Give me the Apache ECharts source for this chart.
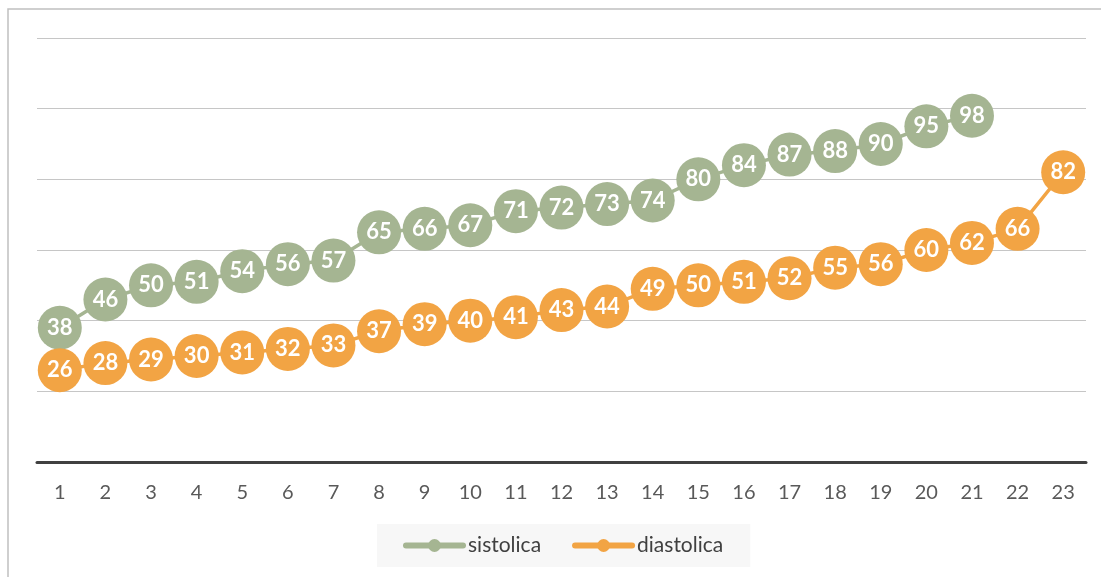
<!DOCTYPE html>
<html>
<head>
<meta charset="utf-8">
<script src="https://cdn.jsdelivr.net/npm/echarts@6/dist/echarts.min.js"></script>
<style>
  html, body { margin: 0; padding: 0; background: #ffffff; }
  #chart { width: 1101px; height: 577px; }
</style>
</head>
<body>
<div id="chart"></div>
<script>
// Blood pressure readings per measurement
const categories = ['1','2','3','4','5','6','7','8','9','10','11','12','13','14','15','16','17','18','19','20','21','22','23'];
const sistolica = [38, 46, 50, 51, 54, 56, 57, 65, 66, 67, 71, 72, 73, 74, 80, 84, 87, 88, 90, 95, 98, null, null];
const diastolica = [26, 28, 29, 30, 31, 32, 33, 37, 39, 40, 41, 43, 44, 49, 50, 51, 52, 55, 56, 60, 62, 66, 82];

const GREEN = '#a5b592';
const ORANGE = '#f2a444';
const FONT = 'Lato, "Open Sans", sans-serif';

function lineSeries(name, data, color) {
  return {
    name: name,
    type: 'line',
    data: data,
    symbol: 'circle',
    symbolSize: 44,
    connectNulls: false,
    lineStyle: { color: color, width: 3.5 },
    itemStyle: { color: color },
    label: {
      show: true,
      position: 'inside',
      color: '#ffffff',
      fontFamily: FONT,
      fontWeight: 'bold',
      fontSize: 22
    },
    emphasis: { disabled: true },
    z: 3
  };
}

const chart = echarts.init(document.getElementById('chart'), null, { renderer: 'canvas' });
chart.setOption({
  animation: false,
  backgroundColor: '#ffffff',
  textStyle: { fontFamily: FONT },
  graphic: [{
    type: 'rect',
    shape: { x: 8, y: 9, width: 1200, height: 700 },
    style: { fill: 'none', stroke: '#c0c0c0', lineWidth: 1.5 },
    silent: true,
    z: -10
  }],
  grid: { left: 37, right: 15, top: 38, bottom: 115, containLabel: false },
  legend: {
    data: ['sistolica', 'diastolica'],
    left: 377,
    top: 524,
    padding: [11, 27, 11, 26],
    itemGap: 31,
    itemWidth: 57,
    itemHeight: 16,
    backgroundColor: '#f7f7f7',
    lineStyle: { width: 6, cap: 'round' },
    textStyle: { color: '#404040', fontSize: 21, fontFamily: FONT, padding: [0, 0, 0, 0] }
  },
  xAxis: {
    type: 'category',
    data: categories,
    boundaryGap: true,
    axisLine: { lineStyle: { color: '#404040', width: 3 } },
    axisTick: { show: false },
    axisLabel: { color: '#595959', fontSize: 20, margin: 21, fontFamily: FONT }
  },
  yAxis: {
    type: 'value',
    min: 0,
    max: 120,
    interval: 20,
    axisLine: { show: false },
    axisTick: { show: false },
    axisLabel: { show: false },
    splitLine: { lineStyle: { color: '#c6c6c6', width: 1.2 } }
  },
  series: [
    lineSeries('sistolica', sistolica, GREEN),
    lineSeries('diastolica', diastolica, ORANGE)
  ]
});
</script>
</body>
</html>
